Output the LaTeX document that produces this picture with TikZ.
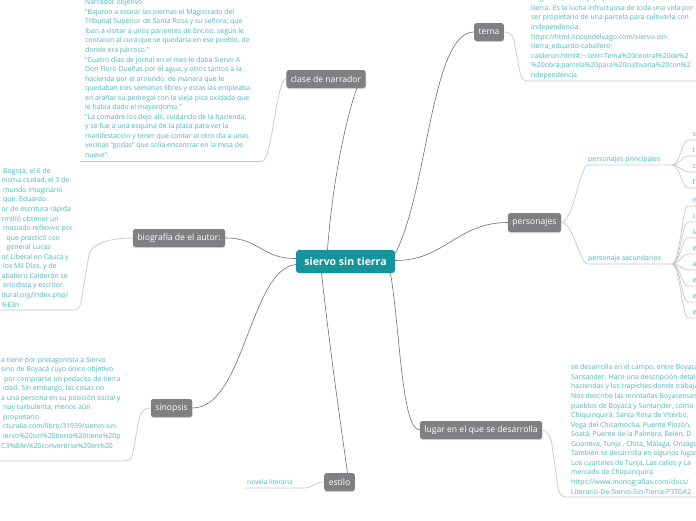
\documentclass[tikz,border=0pt]{standalone}
\usepackage{fontspec}
\setmainfont{Open Sans}
\usetikzlibrary{positioning, shadows}
\definecolor{mapteal}{RGB}{22,148,156}
\definecolor{mapgray}{RGB}{128,128,131}
\definecolor{leafteal}{RGB}{74,182,192}
\definecolor{linkgray}{RGB}{112,112,112}
\definecolor{twiggray}{RGB}{200,200,200}

\begin{document}
\begin{tikzpicture}[x=1pt, y=-1pt,
    central/.style={rectangle, rounded corners=3pt, fill=mapteal, text=white,
      font=\fontsize{10.5}{12}\selectfont\bfseries, minimum width=99pt, minimum height=23pt},
    topic/.style={rectangle, rounded corners=2.5pt, fill=mapgray, text=white,
      font=\fontsize{8.6}{10}\selectfont, minimum height=18pt, inner xsep=4.5pt,
      drop shadow={shadow xshift=0.3pt, shadow yshift=-1pt, opacity=0.3}},
    leaf/.style={anchor=base west, align=left, inner sep=0pt, text=leafteal,
      font=\fontsize{6.9}{9.55}\selectfont},
    branch/.style={draw=linkgray, line width=0.6pt},
    twig/.style={draw=twiggray, line width=0.7pt}]
    \useasboundingbox (0,0) rectangle (696,520);
    \fill[white] (0,0) rectangle (696,520);
    \clip (0,0) rectangle (696,520);
    % --- Nodo central ---
    \node[central] (siervo) at (345.5,261.5) {siervo sin tierra};
    % --- Ramas ---
    \node[topic] (clase) at (326,79) {clase de narrador};
    \node[topic] (tema) at (489,32) {tema};
    \node[topic] (bio) at (179,238) {biografía de el autor:};
    \node[topic, minimum height=19pt] (pers) at (534.5,222.5) {personajes};
    \node[topic] (sinop) at (171.5,408) {sinopsis};
    \node[topic] (lugar) at (481,430) {lugar en el que se desarrolla};
    \node[topic] (estilo) at (339.5,482) {estilo};
    % conexiones
    \draw[branch] ([xshift=-18pt]siervo.north) .. controls +(6,-80) and +(-8,22) .. ([xshift=-9pt]clase.south east);
    \draw[branch] ([yshift=8pt]siervo.east) .. controls +(33,-63) and +(-43,0) .. (tema.west);
    \draw[branch] ([yshift=1pt]siervo.east) .. controls +(50,0) and +(-51,0) .. (pers.west);
    \draw[branch] ([yshift=3pt]siervo.west) .. controls +(-35,0) and +(35,0) .. (bio.east);
    \draw[branch] ([yshift=-3pt]siervo.west) .. controls +(-46,5) and +(52,0) .. (sinop.east);
    \draw[branch] ([xshift=-24pt]siervo.south) .. controls +(8.5,77) and +(-7.5,-53) .. ([xshift=8pt]estilo.north);
    \draw[branch] ([xshift=45pt]siervo.south) .. controls +(9.5,57) and +(-18,0) .. (lugar.west);
    % --- Textos (anclados en la ultima linea) ---
    \node[leaf] (narrtext) at (85,157.5) {Narrador objetivo\\
      “Bajaron a estirar las piernas el Magistrado del\\
      Tribunal Superior de Santa Rosa y su señora, que\\
      iban a visitar a unos parientes de Enciso, según le\\
      contaron al cura que se quedaría en ese pueblo, de\\
      donde era párroco.”\\
      “Cuatro días de jornal en el mes le daba Siervo A\\
      Don Floro Dueñas por el agua, y otros tantos a la\\
      hacienda por el arriendo, de manera que le\\
      quedaban tres semanas libres y estas las empleaba\\
      en arañar su pedregal con la vieja pica oxidada que\\
      le había dado el mayordomo.”\\
      “La comadre los dejó allí, cuidando de la hacienda,\\
      y se fue a una esquina de la plaza para ver la\\
      manifestación y tener que contar al otro día a unas\\
      vecinas “godas” que solía encontrar en la misa de\\
      nueve”.};
    \node[leaf] (biotext) at (1.5,307) {\hspace*{1.5pt}Bogotá, el 6 de\\
      nisma ciudad, el 3 de\\
      \hspace*{1.5pt}mundo imaginario\\
      \hspace*{1.5pt}que, Eduardo\\
      or de escritura rápida\\
      rmitió obtener un\\
      \hspace*{1.5pt}masiado reflexivo por\\
      \hspace*{5pt}que practicó con\\
      \hspace*{5pt}general Lucas\\
      or Liberal en Cauca y\\
      \hspace*{1.5pt}los Mil Días, y de\\
      aballero Calderón se\\
      \hspace*{1.5pt}eriodista y escritor.\\
      itural.org/index.php/\\
      \%E3n};
    \node[leaf] (sintext) at (1,448) {a tiene por protagonista a Siervo\\
      sino de Boyacá cuyo único objetivo\\
      \hspace*{3pt}por comprarse un pedacito de tierra\\
      \hspace*{2pt}idad. Sin embargo, las cosas no\\
      a una persona en su posición social y\\
      \hspace*{2pt}nuy turbulenta, menos aún\\
      \hspace*{2pt}propietario.\\
      \hspace*{2pt}cturalia.com/libro/31939/siervo-sin-\\
      \hspace*{2pt}iervo\%20sin\%20tierra\%20tiene\%20p\\
      C3\%BAn\%20convertirse\%20en\%20};
    \node[leaf] (tematext) at (531,77.2) {originario, Siervo Joya por obtener un pedazo de\\
      tierra. Es la lucha infructuosa de toda una vida por\\
      ser propietario de una parcela para cultivarla con\\
      independencia.\\
      https://html.rincondelvago.com/siervo-sin-\\
      tierra\_eduardo-caballero-\\
      calderon.html\#:\textasciitilde:text=Tema\%20central\%20de\%2\\
      \%20obra,parcela\%20para\%20cultivarla\%20con\%2\\
      ndependencia.};
    \node[leaf] (lugartext) at (571,494) {se desarrolla en el campo, entre Boyacá y\\
      Santander. Hace una descripción detallada de\\
      haciendas y los trapiches donde trabajan\\
      Nos describe las montañas Boyacenses\\
      pueblos de Boyacá y Santander, como\\
      Chiquinquirá, Santa Rosa de Viterbo,\\
      Vega del Chicamocha, Puente Pinzón,\\
      Soatá, Puente de la Palmera, Belén, D\\
      Guantiva, Tunja , Chita, Málaga, Onzaga\\
      También se desarrolla en algunos lugares\\
      Los cuarteles de Tunja, Las calles y La\\
      mercado de Chiquinquirá.\\
      https://www.monografias.com/docs/\\
      Literario-De-Siervo-Sin-Tierra-P3TGA2};
    \node[leaf, font=\fontsize{6.6}{9}\selectfont] (estilotext) at (247,484) {novela literaria};
    \node[leaf] (prin) at (588,161) {personajes principales};
    \node[leaf] (secu) at (588,260.5) {personaje secundarios};
    % --- Lineas de hojas ---
    \coordinate (narrend) at (80,161.5);
    \coordinate (bioend) at (-5,310);
    \coordinate (sinend) at (-5,461);
    \coordinate (temaend) at (700,81);
    \coordinate (lugarend) at (700,497);
    \coordinate (estiloend) at (245,488);
    \coordinate (prinend) at (672,165);
    \coordinate (secuend) at (672,264);
    \draw[twig] (clase.west) .. controls +(-10,0) and +(10,0) .. (262,161.5) -- (narrend);
    \draw[twig] (bio.west) .. controls +(-30,0) and +(1,-8) .. (89,255) -- (81,302)
      .. controls +(-1,6) and +(5,0) .. (72,310) -- (bioend);
    \draw[twig] (sinop.west) .. controls +(-10,0) and +(1,-8) .. (138,425) -- (133,452)
      .. controls +(-1,6) and +(5,0) .. (125,461) -- (sinend);
    \draw[twig] (tema.east) .. controls +(8,0) and +(-1,-8) .. (515,46) -- (520,72)
      .. controls +(1,6) and +(-5,0) .. (528,81) -- (temaend);
    \draw[twig] (lugar.east) .. controls +(5,0) and +(-1,-8) .. (552,445) -- (558,488)
      .. controls +(1,6) and +(-5,0) .. (567,497) -- (lugarend);
    \draw[twig] (estilo.west) .. controls +(-9,0) and +(9,0) .. (304,488) -- (estiloend);
    \draw[twig] (pers.east) .. controls +(12,0) and +(-8,0) .. (588,165) -- (prinend);
    \draw[twig] (pers.east) .. controls +(12,0) and +(-8,0) .. (588,264) -- (secuend);
    % personajes (solo se ve la primera letra)
    \foreach \y/\t in {140/s, 156/t, 172/c, 188/f} {
      \draw[twig] (prinend) .. controls +(8,0) and +(-6,0) .. (688,\y) -- (700,\y);
      \node[leaf] at (692.5,\y-3.5) {\t};
    }
    \foreach \y/\t in {206/n, 222/c, 238/la, 254/e, 270/a, 286/e, 302/e, 318/e} {
      \draw[twig] (secuend) .. controls +(8,0) and +(-6,0) .. (688,\y) -- (700,\y);
      \node[leaf] at (692.5,\y-3.5) {\t};
    }
  \end{tikzpicture}
\end{document}
